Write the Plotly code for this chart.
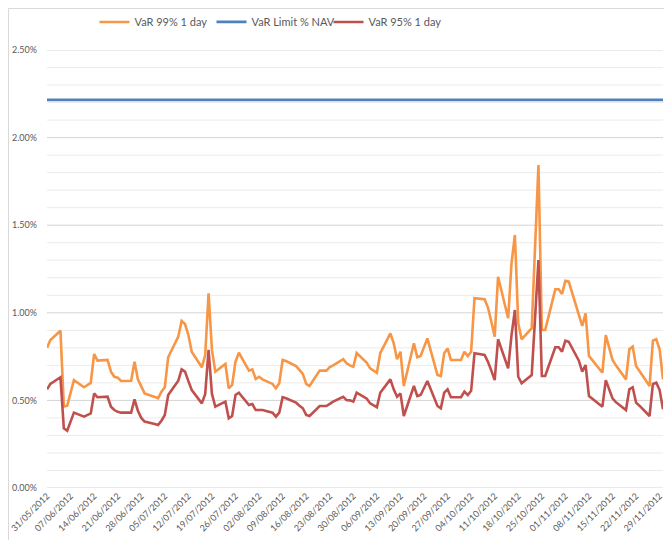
import plotly.graph_objects as go

dates = [
    "2012-05-31", "2012-06-01", "2012-06-04", "2012-06-05", "2012-06-06", "2012-06-07", "2012-06-08",
    "2012-06-11", "2012-06-12", "2012-06-13", "2012-06-14", "2012-06-15",
    "2012-06-18", "2012-06-19", "2012-06-20", "2012-06-21", "2012-06-22",
    "2012-06-25", "2012-06-26", "2012-06-27", "2012-06-28", "2012-06-29",
    "2012-07-02", "2012-07-03", "2012-07-04", "2012-07-05", "2012-07-06",
    "2012-07-09", "2012-07-10", "2012-07-11", "2012-07-12", "2012-07-13",
    "2012-07-16", "2012-07-17", "2012-07-18", "2012-07-19", "2012-07-20",
    "2012-07-23", "2012-07-24", "2012-07-25", "2012-07-26", "2012-07-27",
    "2012-07-30", "2012-07-31", "2012-08-01", "2012-08-02", "2012-08-03",
    "2012-08-06", "2012-08-07", "2012-08-08", "2012-08-09", "2012-08-10",
    "2012-08-13", "2012-08-14", "2012-08-15", "2012-08-16", "2012-08-17",
    "2012-08-20", "2012-08-21", "2012-08-22", "2012-08-23", "2012-08-24",
    "2012-08-27", "2012-08-28", "2012-08-29", "2012-08-30", "2012-08-31",
    "2012-09-03", "2012-09-04", "2012-09-05", "2012-09-06", "2012-09-07",
    "2012-09-10", "2012-09-11", "2012-09-12", "2012-09-13", "2012-09-14",
    "2012-09-17", "2012-09-18", "2012-09-19", "2012-09-20", "2012-09-21",
    "2012-09-24", "2012-09-25", "2012-09-26", "2012-09-27", "2012-09-28",
    "2012-10-01", "2012-10-02", "2012-10-03", "2012-10-04", "2012-10-05",
    "2012-10-08", "2012-10-09", "2012-10-10", "2012-10-11", "2012-10-12",
    "2012-10-15", "2012-10-16", "2012-10-17", "2012-10-18", "2012-10-19",
    "2012-10-22", "2012-10-23", "2012-10-24", "2012-10-25", "2012-10-26",
    "2012-10-29", "2012-10-30", "2012-10-31", "2012-11-01", "2012-11-02",
    "2012-11-05", "2012-11-06", "2012-11-07", "2012-11-08", "2012-11-09",
    "2012-11-12", "2012-11-13", "2012-11-14", "2012-11-15", "2012-11-16",
    "2012-11-19", "2012-11-20", "2012-11-21", "2012-11-22", "2012-11-23",
    "2012-11-26", "2012-11-27", "2012-11-28", "2012-11-29", "2012-11-30",
]

var99 = [
    0.80, 0.845, 0.898, 0.465, 0.47, 0.54, 0.616,
    0.575, 0.59, 0.60, 0.765, 0.727,
    0.731, 0.664, 0.635, 0.63, 0.611,
    0.612, 0.721, 0.62, 0.58, 0.54,
    0.52, 0.512, 0.55, 0.575, 0.746,
    0.864, 0.953, 0.936, 0.873, 0.778,
    0.689, 0.759, 1.111, 0.788, 0.664,
    0.708, 0.569, 0.588, 0.721, 0.772,
    0.67, 0.677, 0.622, 0.635, 0.62,
    0.594, 0.569, 0.598, 0.731, 0.725,
    0.696, 0.675, 0.651, 0.594, 0.582,
    0.67, 0.67, 0.67, 0.69, 0.70,
    0.735, 0.712, 0.70, 0.692, 0.77,
    0.715, 0.683, 0.67, 0.658, 0.769,
    0.883, 0.826, 0.735, 0.778, 0.582,
    0.826, 0.746, 0.753, 0.80, 0.854,
    0.645, 0.639, 0.769, 0.797, 0.731,
    0.731, 0.778, 0.753, 0.778, 1.083,
    1.077, 1.03, 0.95, 0.864, 1.206,
    0.969, 1.283, 1.444, 0.94, 0.849,
    0.912, 1.40, 1.844, 0.902, 0.902,
    1.134, 1.134, 1.107, 1.183, 1.178,
    0.997, 0.925, 0.997, 0.753, 0.73,
    0.658, 0.873, 0.80, 0.731, 0.70,
    0.62, 0.792, 0.807, 0.696, 0.667,
    0.582, 0.841, 0.849, 0.792, 0.62,
]

var95 = [
    0.563, 0.594, 0.632, 0.341, 0.327, 0.38, 0.43,
    0.407, 0.415, 0.426, 0.54, 0.518,
    0.521, 0.464, 0.445, 0.435, 0.43,
    0.43, 0.506, 0.441, 0.40, 0.379,
    0.365, 0.36, 0.384, 0.417, 0.531,
    0.612, 0.677, 0.664, 0.61, 0.559,
    0.483, 0.537, 0.788, 0.537, 0.464,
    0.493, 0.398, 0.411, 0.531, 0.544,
    0.474, 0.479, 0.445, 0.445, 0.445,
    0.43, 0.407, 0.43, 0.518, 0.512,
    0.487, 0.47, 0.455, 0.417, 0.411,
    0.468, 0.468, 0.468, 0.48, 0.493,
    0.521, 0.502, 0.50, 0.493, 0.544,
    0.51, 0.483, 0.47, 0.461, 0.544,
    0.62, 0.563, 0.521, 0.54, 0.411,
    0.582, 0.525, 0.531, 0.57, 0.611,
    0.468, 0.455, 0.544, 0.563, 0.518,
    0.518, 0.55, 0.531, 0.555, 0.769,
    0.759, 0.72, 0.67, 0.616, 0.849,
    0.683, 0.873, 1.016, 0.635, 0.598,
    0.645, 0.97, 1.301, 0.639, 0.639,
    0.803, 0.803, 0.778, 0.841, 0.835,
    0.727, 0.664, 0.702, 0.525, 0.51,
    0.464, 0.616, 0.56, 0.512, 0.49,
    0.445, 0.563, 0.575, 0.487, 0.47,
    0.411, 0.594, 0.601, 0.559, 0.449,
]

var_limit = [2.215] * len(dates)

# y-axis gridline levels (in %): labelled major levels and unlabelled minor levels
major_levels = [0.0, 0.5, 1.0, 1.5, 2.0, 2.5]
minor_levels = [round(i / 10, 1) for i in range(26) if i % 5 != 0]

FONT = "Lato, 'Open Sans', sans-serif"
GREY = "#595959"

fig = go.Figure()
fig.add_trace(go.Scatter(x=dates, y=var99, mode="lines", name="VaR 99% 1 day",
                         line=dict(color="#F79646", width=2.6)))
fig.add_trace(go.Scatter(x=dates, y=var_limit, mode="lines", name="VaR Limit % NAV",
                         line=dict(color="#4F81BD", width=2.8)))
fig.add_trace(go.Scatter(x=dates, y=var95, mode="lines", name="VaR 95% 1 day",
                         line=dict(color="#C0504D", width=2.6)))

grid_shapes = []
for lvl in minor_levels:
    grid_shapes.append(dict(type="line", xref="paper", yref="y", x0=0, x1=1, y0=lvl, y1=lvl,
                            line=dict(color="#EBEBEB", width=1), layer="below"))
for lvl in major_levels:
    grid_shapes.append(dict(type="line", xref="paper", yref="y", x0=0, x1=1, y0=lvl, y1=lvl,
                            line=dict(color="#D4D4D4", width=1), layer="below"))

frame = dict(type="rect", xref="paper", yref="paper",
             x0=-0.0625, x1=1.0114, y0=-0.2, y1=1.0947,
             line=dict(color="#D9D9D9", width=1), fillcolor="rgba(0,0,0,0)",
             layer="above")

# page body has an 8px default margin, so the figure is sized to fill the rest
fig.update_layout(
    width=664, height=532,
    margin=dict(l=39, r=9, t=42, b=52, autoexpand=False),
    paper_bgcolor="white", plot_bgcolor="white",
    font=dict(family=FONT, color=GREY, size=9),
    showlegend=True,
    legend=dict(orientation="h", x=0.362, xanchor="center", y=1.064, yanchor="middle",
                font=dict(family=FONT, size=11, color=GREY),
                entrywidth=72, entrywidthmode="pixels", itemwidth=30,
                tracegroupgap=0, bgcolor="rgba(0,0,0,0)"),
    shapes=grid_shapes + [frame],
)

fig.update_xaxes(
    type="date", automargin=False,
    range=["2012-05-31", "2012-11-30"],
    tick0="2012-05-31", dtick=7 * 86400000,
    tickformat="%d/%m/%Y", tickangle=-45,
    tickfont=dict(family=FONT, size=9, color=GREY),
    showgrid=False, showline=False, zeroline=False, ticks="",
)

fig.update_yaxes(
    automargin=False,
    range=[0, 2.5], dtick=0.5, tickformat=".2f", ticksuffix="%",
    tickfont=dict(family=FONT, size=9, color=GREY),
    showgrid=False, zeroline=False, showline=False,
    ticks="", ticklabelstandoff=9,
)

fig.write_html("out.html")
